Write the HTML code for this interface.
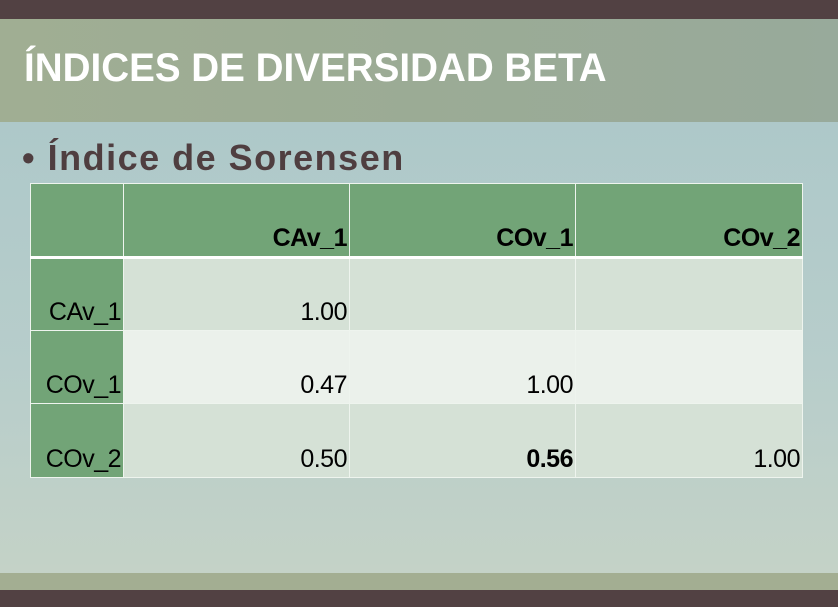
<!DOCTYPE html>
<html><head><meta charset="utf-8"><style>
body{margin:0;width:838px;height:607px;overflow:hidden;position:relative;font-family:"Liberation Sans",sans-serif;
background:linear-gradient(180deg,#a9c6c8 0%,#b7cdcb 60%,#c6d3c6 100%);}
.abs{position:absolute}
table{border-collapse:collapse;position:absolute;left:30px;top:183px;}
td{border:1px solid #eef4ee;padding:0 2px 3px 0;text-align:right;vertical-align:bottom;font-size:25px;color:#000;box-sizing:border-box;letter-spacing:-0.5px}
tr.h td{background:#72a477;font-weight:bold;height:74px;border-bottom:3px solid #fff}
td.rh{background:#72a477;}
tr.r1 td,tr.r3 td{background:#d5e1d6}
tr.r2 td{background:#ebf1eb}
tr.r1 td.rh,tr.r2 td.rh,tr.r3 td.rh{background:#72a477}
</style></head><body>
<div class="abs" style="left:0;top:0;width:838px;height:19px;background:#524143"></div>
<div class="abs" style="left:0;top:19px;width:838px;height:103px;background:linear-gradient(90deg,#a0ae93,#9bab95 50%,#98aa9b)"></div>
<div class="abs" style="left:24px;top:46px;font-size:40px;font-weight:bold;color:#fff;transform:scaleX(0.965);transform-origin:left top;white-space:nowrap">ÍNDICES DE DIVERSIDAD BETA</div>
<div class="abs" style="left:22px;top:137px;font-size:36px;font-weight:bold;color:#4f3e40;letter-spacing:1.5px;white-space:nowrap">• Índice de Sorensen</div>
<table>
<tr class="h"><td style="width:93px"></td><td style="width:226px">CAv_1</td><td style="width:226px">COv_1</td><td style="width:227px">COv_2</td></tr>
<tr class="r1" style="height:73px"><td class="rh">CAv_1</td><td>1.00</td><td></td><td></td></tr>
<tr class="r2" style="height:73px"><td class="rh">COv_1</td><td>0.47</td><td>1.00</td><td></td></tr>
<tr class="r3" style="height:74px"><td class="rh">COv_2</td><td>0.50</td><td style="font-weight:bold">0.56</td><td>1.00</td></tr>
</table>
<div class="abs" style="left:0;top:573px;width:838px;height:17px;background:#a3ae92"></div>
<div class="abs" style="left:0;top:590px;width:838px;height:17px;background:#524143"></div>
</body></html>
